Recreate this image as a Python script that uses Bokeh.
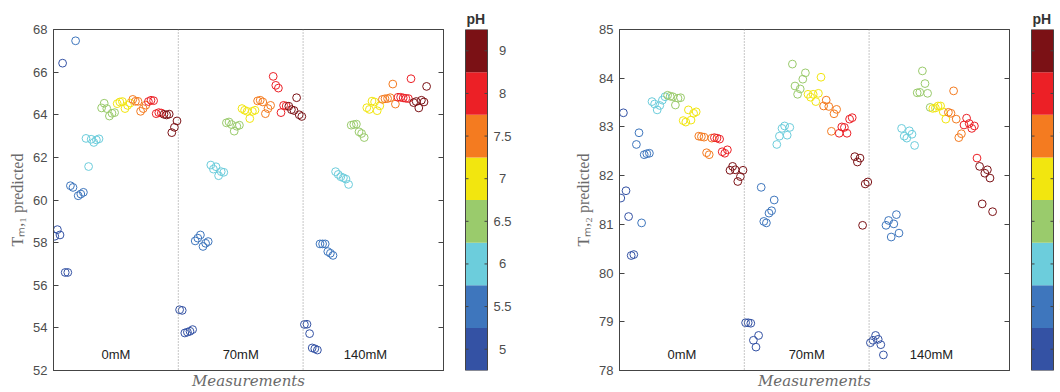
from bokeh.plotting import figure
from bokeh.models import Range1d, LinearAxis, FixedTicker, Span, Label, ColumnDataSource
from bokeh.layouts import row
from bokeh.core.properties import value
from bokeh.embed import file_html
from bokeh.resources import INLINE

# ---------------- data ----------------
ph_levels = [5, 5.5, 6, 6.5, 7, 7.5, 8, 9]
ph_labels = ["5", "5.5", "6", "6.5", "7", "7.5", "8", "9"]
ph_colors = ["#3452A4", "#3E76BD", "#6CCDDC", "#9ACB6C",
             "#F2E60F", "#F47B20", "#EC2026", "#7B1115"]
replicates = 6
segments = ["0mM", "70mM", "140mM"]

tm1_0mM = [58.30, 58.61, 58.36, 66.42, 56.60, 56.60,
           60.67, 60.59, 67.47, 60.20, 60.28, 60.36,
           62.89, 61.57, 62.85, 62.70, 62.82, 62.87,
           64.32, 64.54, 64.29, 63.94, 64.07, 64.10,
           64.52, 64.60, 64.62, 64.29, 64.44, 64.55,
           64.72, 64.63, 64.63, 64.16, 64.29, 64.45,
           64.62, 64.68, 64.66, 64.05, 64.10, 64.08,
           64.02, 63.99, 64.03, 63.16, 63.41, 63.71]
tm1_70mM = [54.85, 54.82, 53.76, 53.80, 53.84, 53.92,
            58.08, 58.21, 58.36, 57.82, 57.97, 58.05,
            61.64, 61.45, 61.56, 61.14, 61.33, 61.30,
            63.62, 63.66, 63.54, 63.23, 63.46, 63.51,
            64.29, 64.21, 64.16, 63.82, 64.16, 64.21,
            64.65, 64.68, 64.60, 64.05, 64.29, 64.44,
            65.80, 65.38, 65.25, 64.10, 64.44, 64.41,
            64.40, 64.24, 64.20, 64.80, 64.00, 63.92]
tm1_140mM = [54.16, 54.17, 53.73, 53.06, 53.02, 52.96,
             57.94, 57.94, 57.94, 57.58, 57.50, 57.40,
             61.33, 61.20, 61.09, 61.04, 60.98, 60.73,
             63.51, 63.54, 63.56, 63.20, 63.12, 62.93,
             64.33, 64.25, 64.64, 64.60, 64.19, 64.42,
             64.72, 64.75, 64.76, 64.80, 65.44, 64.50,
             64.82, 64.82, 64.79, 64.77, 64.76, 65.69,
             64.57, 64.62, 64.32, 64.68, 64.60, 65.33]

tm2_0mM = [81.54, 83.29, 81.69, 81.16, 80.36, 80.38,
           82.64, 82.88, 81.03, 82.43, 82.45, 82.46,
           83.52, 83.47, 83.35, 83.44, 83.55, 83.62,
           83.65, 83.63, 83.62, 83.45, 83.59, 83.60,
           83.13, 83.10, 83.35, 83.14, 83.28, 83.31,
           82.81, 82.80, 82.79, 82.47, 82.43, 82.77,
           82.78, 82.77, 82.75, 82.49, 82.46, 82.53,
           82.11, 82.19, 82.12, 81.88, 81.98, 82.11]
tm2_70mM = [78.98, 78.98, 78.97, 78.62, 78.48, 78.72,
            81.76, 81.06, 81.03, 81.23, 81.28, 81.50,
            82.64, 82.81, 82.97, 83.02, 82.83, 82.99,
            84.29, 83.84, 83.67, 83.78, 83.98, 84.11,
            83.67, 83.61, 83.67, 83.52, 83.69, 84.02,
            83.43, 83.55, 83.42, 82.91, 83.27, 83.36,
            82.87, 83.00, 82.99, 82.87, 83.16, 83.19,
            82.39, 82.28, 82.36, 80.98, 81.83, 81.87]
tm2_140mM = [78.57, 78.62, 78.72, 78.64, 78.53, 78.32,
             80.98, 81.08, 80.74, 81.01, 81.20, 80.82,
             82.97, 82.81, 82.77, 82.92, 82.85, 82.62,
             83.70, 83.71, 84.15, 83.89, 83.69, 83.40,
             83.38, 83.39, 83.43, 83.43, 83.31, 83.16,
             83.30, 83.28, 83.74, 83.16, 82.78, 82.86,
             83.04, 83.18, 83.07, 82.97, 83.02, 82.36,
             82.19, 81.42, 82.05, 82.12, 81.95, 81.26]

tm1_ticks = [52, 54, 56, 58, 60, 62, 64, 66, 68]
tm2_ticks = [78, 79, 80, 81, 82, 83, 84, 85]

AX = "#444444"
TXT = "#4d4d4d"


def make_panel(seg_values, ticks, ylabel):
    ys, xs, cs = [], [], []
    n_seg = len(ph_levels) * replicates
    for s, vals in enumerate(seg_values):
        for i, v in enumerate(vals):
            xs.append(s * n_seg + i + 1)
            ys.append(v)
            cs.append(ph_colors[i // replicates])
    y0, y1 = ticks[0], ticks[-1]
    p = figure(width=453, height=392, output_backend="svg", toolbar_location=None,
               x_range=Range1d(0.5, 150.5), y_range=Range1d(y0, y1),
               min_border_left=53, min_border_right=10, min_border_top=29,
               min_border_bottom=21, background_fill_color="white",
               border_fill_color="white")
    p.grid.visible = False
    p.outline_line_color = AX
    p.outline_line_width = 1

    ya = p.yaxis[0]
    ya.ticker = FixedTicker(ticks=ticks)
    ya.major_tick_in = 5
    ya.major_tick_out = 0
    ya.minor_tick_line_color = None
    ya.axis_line_color = AX
    ya.major_tick_line_color = AX
    ya.major_label_text_font = "Liberation Sans"
    ya.major_label_text_font_size = "13px"
    ya.major_label_text_color = TXT
    ya.major_label_standoff = 6
    ya.axis_label = ylabel
    ya.axis_label_standoff = 4
    ya.axis_label_text_font = "Liberation Serif"
    ya.axis_label_text_font_style = "normal"
    ya.axis_label_text_font_size = "16px"
    ya.axis_label_text_color = "#6a6a6a"

    xa = p.xaxis[0]
    xa.ticker = FixedTicker(ticks=[])
    xa.major_tick_line_color = None
    xa.minor_tick_line_color = None
    xa.axis_line_color = AX
    xa.axis_label = "Measurements"
    xa.axis_label_standoff = 1
    xa.axis_label_text_font = "DejaVu Serif"
    xa.axis_label_text_font_style = "italic"
    xa.axis_label_text_font_size = "15px"
    xa.axis_label_text_color = "#6a6a6a"

    ra = LinearAxis(ticker=FixedTicker(ticks=ticks),
                    major_label_overrides={t: "" for t in ticks},
                    major_tick_in=5, major_tick_out=0, major_label_standoff=0,
                    minor_tick_line_color=None, axis_line_color=AX,
                    major_tick_line_color=AX)
    p.add_layout(ra, "right")

    n = len(ph_levels) * replicates
    for b in (n + 0.5, 2 * n + 0.5):
        p.add_layout(Span(location=b, dimension="height", line_color="#8c8c8c",
                          line_dash="1 2", line_width=1))

    src = ColumnDataSource(dict(x=xs, y=ys, c=cs))
    p.scatter("x", "y", source=src, marker="circle", size=7.8, fill_color=None,
              line_color="c", line_width=1)

    ly = y0 + 0.047 * (y1 - y0)
    for s, name in enumerate(segments):
        p.add_layout(Label(x=s * n + n / 2 + 0.5, y=ly, text=name, text_align="center",
                           text_baseline="middle", text_font="Liberation Sans",
                           text_font_size="13px", text_color="#222222"))
    return p


def make_cbar(width):
    nb = len(ph_levels)
    c = figure(width=width, height=392, output_backend="svg", toolbar_location=None,
               x_range=Range1d(0, width), y_range=Range1d(0, nb),
               x_axis_location=None, y_axis_location=None, min_border=0,
               min_border_top=29, min_border_bottom=21,
               outline_line_color=None, background_fill_color="white",
               border_fill_color="white", title="pH")
    c.title.align = "left"
    c.title.offset = 13
    c.title.standoff = 5
    c.title.text_font = "Liberation Sans"
    c.title.text_font_size = "14px"
    c.title.text_font_style = "bold"
    c.title.text_color = "#333333"
    c.grid.visible = False
    idx = list(range(nb))
    mids = [i + 0.5 for i in idx]
    c.quad(left=12, right=34, bottom=idx, top=[i + 1 for i in idx],
           fill_color=ph_colors, line_color=None)
    c.quad(left=[12], right=[34], bottom=[0], top=[nb], fill_color=None,
           line_color=AX, line_width=1)
    c.segment(x0=12, x1=15, y0=mids, y1=mids, line_color=AX, line_width=1)
    c.segment(x0=31, x1=34, y0=mids, y1=mids, line_color=AX, line_width=1)
    c.text(x=49, y=mids, text=ph_labels, text_align="center", text_baseline="middle",
           text_font=value("Liberation Sans"), text_font_size="13px", text_color=TXT)
    return c


p1 = make_panel([tm1_0mM, tm1_70mM, tm1_140mM], tm1_ticks, "T\u2098,\u2081 predicted")
c1 = make_cbar(113)
p2 = make_panel([tm2_0mM, tm2_70mM, tm2_140mM], tm2_ticks, "T\u2098,\u2082 predicted")
c2 = make_cbar(41)

layout = row(p1, c1, p2, c2, spacing=0)
open("out.html", "w").write(file_html(layout, INLINE))
